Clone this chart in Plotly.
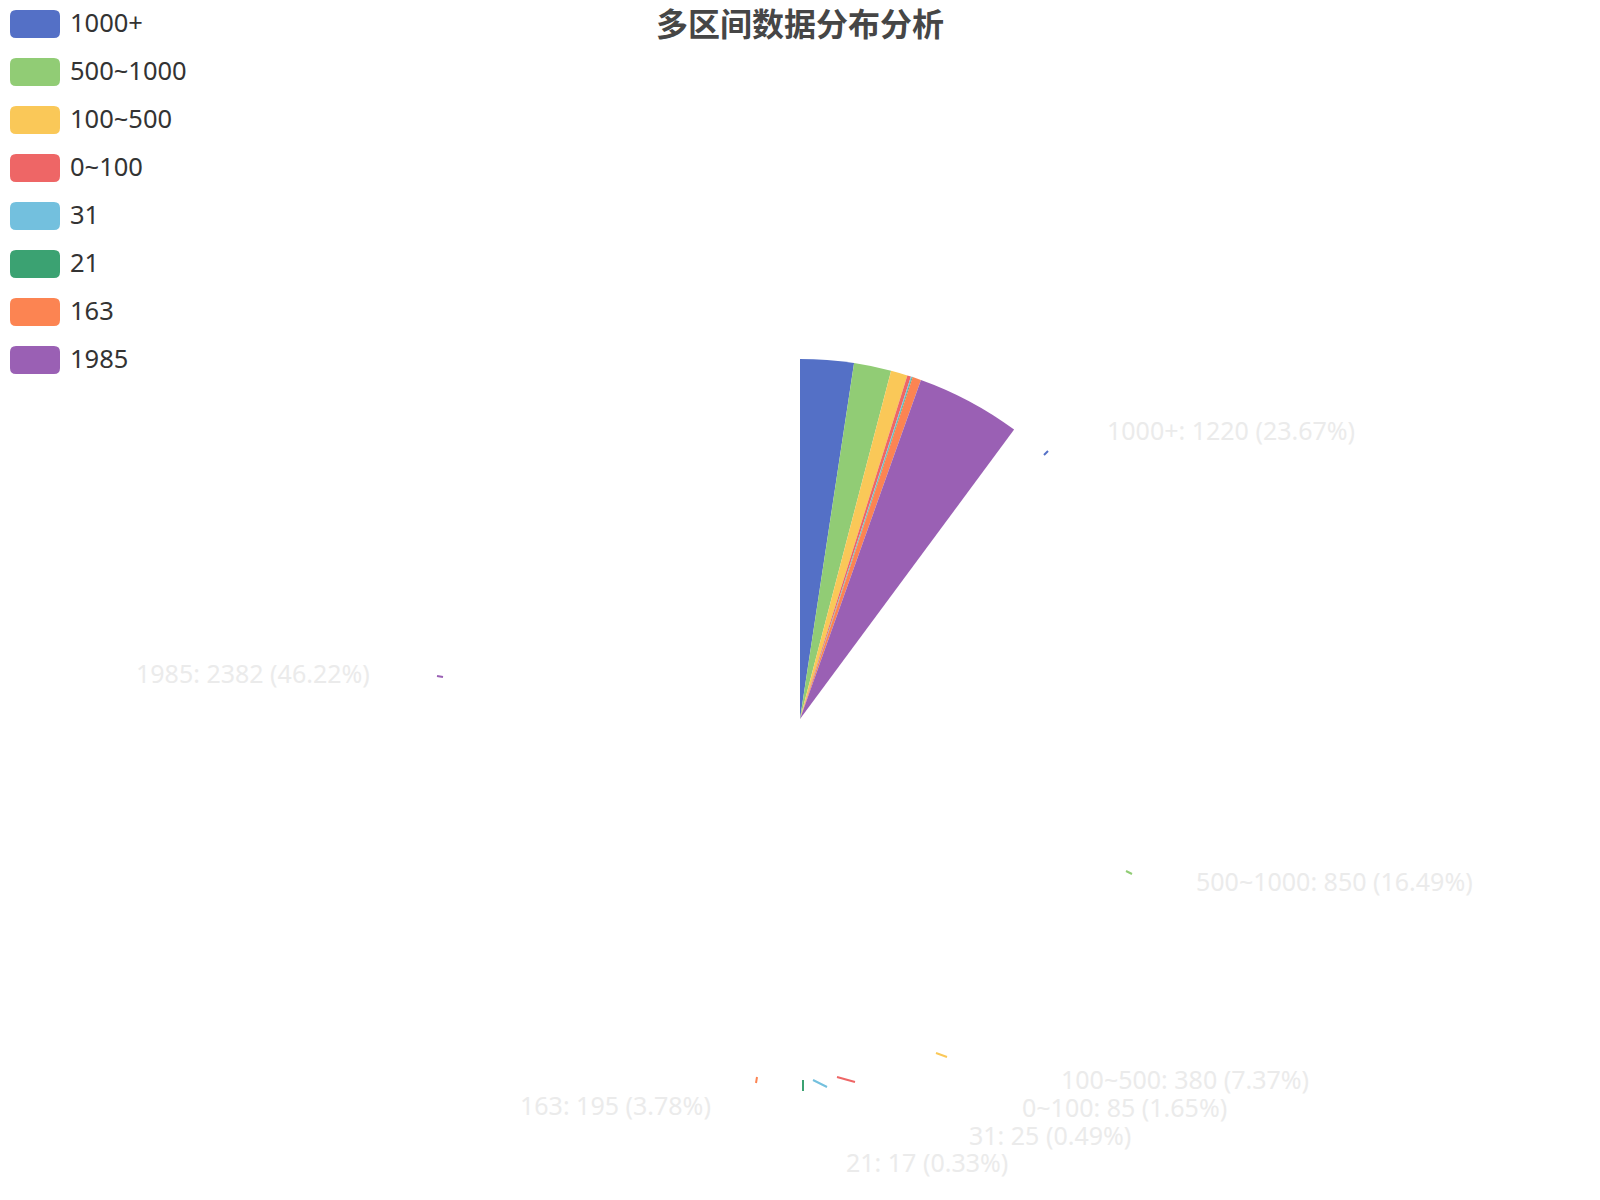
import plotly.graph_objects as go

# data
names = ["1000+", "500~1000", "100~500", "0~100", "31", "21", "163", "1985"]
values = [1220, 850, 380, 85, 25, 17, 195, 2382]
colors = ["#5470c6", "#91cc75", "#fac858", "#ee6666", "#73c0de", "#3ba272", "#fc8452", "#9a60b4"]

W, H = 1600, 1200
OFF = 8                     # page body margin in the browser
cx, cy, R = 800, 719, 360   # pie centre / radius in pixels
sweep = 36.5                # degrees the drawn slices cover (snapshot of the growing pie)

# label placement (pixels): x, y, anchor
label_pos = [
    (1105, 430, "left"),
    (1194, 881, "left"),
    (1059, 1079, "left"),
    (1020, 1107, "left"),
    (967, 1135, "left"),
    (844, 1162, "left"),
    (713, 1105, "right"),
    (372, 673, "right"),
]
# short label-line pieces (pixels): x0, y0, x1, y1
label_lines = [
    (1044, 455, 1048, 451),
    (1126, 871, 1132, 874),
    (936, 1053, 947, 1057),
    (837, 1077, 855, 1082),
    (813, 1080, 827, 1087),
    (803, 1091, 803, 1080),
    (756, 1083, 757, 1077),
    (437, 676, 443, 677),
]


def px(x):
    return (x - OFF) / W


def py(y):
    return 1 - (y - OFF) / H


total = sum(values)
filler = total * (360 / sweep - 1)

fig = go.Figure(
    go.Pie(
        values=values + [filler],
        labels=names + [""],
        marker=dict(colors=colors + ["rgba(0,0,0,0)"], line=dict(width=0)),
        sort=False,
        direction="clockwise",
        rotation=0,
        textinfo="none",
        hoverinfo="skip",
        showlegend=False,
        domain=dict(x=[px(cx - R), px(cx + R)], y=[py(cy + R), py(cy - R)]),
    )
)

shapes = []
annotations = []

for (x0, y0, x1, y1), c in zip(label_lines, colors):
    shapes.append(dict(type="line", xref="paper", yref="paper",
                       x0=px(x0), y0=py(y0), x1=px(x1), y1=py(y1),
                       line=dict(color=c, width=2)))

for n, v, (lx, ly, anc) in zip(names, values, label_pos):
    annotations.append(dict(
        text=f"{n}: {v} ({v / total * 100:.2f}%)",
        x=px(lx), y=py(ly), xref="paper", yref="paper",
        xanchor=anc, yanchor="middle", showarrow=False,
        font=dict(family="Noto Sans", size=25, color="#ebebeb"),
    ))


# legend drawn by hand: rounded rectangles + names
def round_rect(x0, y0, x1, y1, r):
    s = f"M{px(x0 + r)},{py(y0)} L{px(x1 - r)},{py(y0)}"
    s += f" Q{px(x1)},{py(y0)} {px(x1)},{py(y0 + r)} L{px(x1)},{py(y1 - r)}"
    s += f" Q{px(x1)},{py(y1)} {px(x1 - r)},{py(y1)} L{px(x0 + r)},{py(y1)}"
    s += f" Q{px(x0)},{py(y1)} {px(x0)},{py(y1 - r)} L{px(x0)},{py(y0 + r)}"
    s += f" Q{px(x0)},{py(y0)} {px(x0 + r)},{py(y0)} Z"
    return s


for i, (n, c) in enumerate(zip(names, colors)):
    yc = 24 + i * 48
    shapes.append(dict(type="path", xref="paper", yref="paper",
                       path=round_rect(10, yc - 14, 60, yc + 14, 6),
                       fillcolor=c, line=dict(width=0)))
    annotations.append(dict(
        text=n, x=px(68), y=py(yc - 2), xref="paper", yref="paper",
        xanchor="left", yanchor="middle", showarrow=False,
        font=dict(family="Noto Sans", size=25.5, color="#333333"),
    ))

fig.update_layout(
    width=W,
    height=H,
    margin=dict(l=0, r=0, t=0, b=0),
    paper_bgcolor="white",
    plot_bgcolor="white",
    title=dict(
        text="多区间数据分布分析",
        x=px(800), xanchor="center", y=py(25), yanchor="middle",
        font=dict(family="Noto Sans CJK SC", size=32, color="#464646", weight="bold"),
    ),
    shapes=shapes,
    annotations=annotations,
)

fig.write_html("out.html")
